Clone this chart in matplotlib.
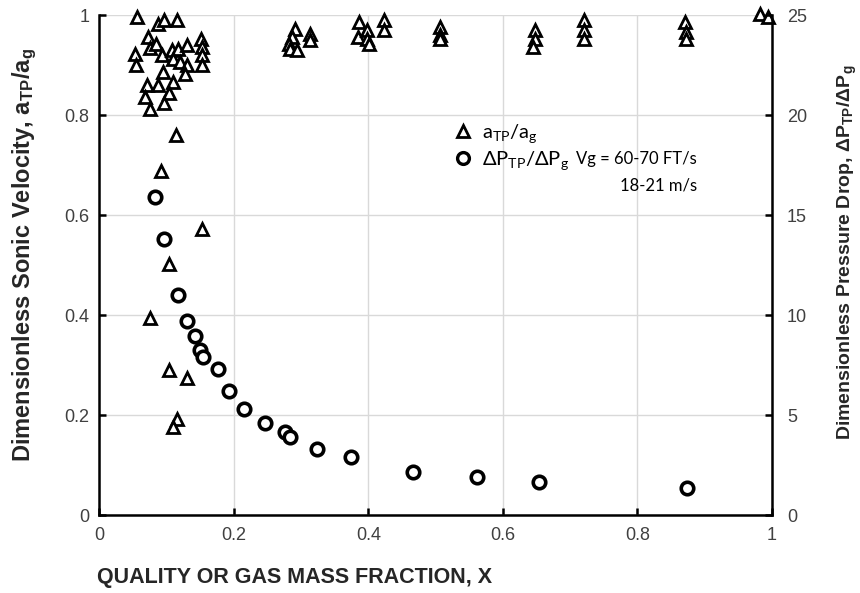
import matplotlib
matplotlib.use("Agg")
import matplotlib.pyplot as plt
from matplotlib.lines import Line2D

plt.rcParams['font.family'] = ['Liberation Sans', 'DejaVu Sans']
plt.rcParams['mathtext.default'] = 'regular'

# Sonic velocity ratio a_TP/a_g (left axis)
x_sonic = [0.0556, 0.088, 0.0955, 0.115, 0.073, 0.075, 0.085, 0.053, 0.0546, 0.093,
           0.108, 0.1175, 0.130, 0.110, 0.120, 0.130, 0.127, 0.151, 0.152, 0.152,
           0.152, 0.095, 0.0705, 0.087, 0.110, 0.068, 0.1036, 0.0754, 0.0967,
           0.114, 0.0917, 0.152, 0.104, 0.0754, 0.1036, 0.1309, 0.116, 0.110,
           0.291, 0.286, 0.2826, 0.284, 0.2935, 0.313, 0.313, 0.3866, 0.385, 0.3976,
           0.3976, 0.4015, 0.4238, 0.4238, 0.5066, 0.5066, 0.507, 0.648, 0.648, 0.645,
           0.7207, 0.7207, 0.7207, 0.8709, 0.872, 0.872, 0.9825, 0.9947]
a_ratio = [0.997, 0.983, 0.990, 0.990, 0.957, 0.935, 0.943, 0.923, 0.901, 0.921,
           0.930, 0.933, 0.940, 0.913, 0.907, 0.900, 0.883, 0.953, 0.937, 0.920,
           0.900, 0.887, 0.860, 0.861, 0.867, 0.837, 0.845, 0.813, 0.825,
           0.760, 0.689, 0.573, 0.503, 0.395, 0.291, 0.275, 0.193, 0.177,
           0.973, 0.957, 0.943, 0.933, 0.930, 0.963, 0.950, 0.987, 0.957, 0.970,
           0.953, 0.943, 0.990, 0.970, 0.977, 0.960, 0.953, 0.970, 0.953, 0.937,
           0.990, 0.970, 0.953, 0.987, 0.967, 0.953, 1.003, 0.997]

# Pressure drop ratio dP_TP/dP_g (right axis)
x_dp = [0.0833, 0.0967, 0.1165, 0.130, 0.1423, 0.1497, 0.1537, 0.177, 0.1929, 0.2156,
        0.2464, 0.276, 0.2836, 0.3233, 0.3738, 0.467, 0.561, 0.654, 0.8744]
dp_ratio = [15.88, 13.8, 11.0, 9.72, 8.95, 8.25, 7.88, 7.28, 6.2, 5.28,
            4.62, 4.17, 3.88, 3.28, 2.92, 2.17, 1.92, 1.67, 1.33]

x_ticks = [0, 0.2, 0.4, 0.6, 0.8, 1]
x_tick_labels = ['0', '0.2', '0.4', '0.6', '0.8', '1']
y_ticks = [0, 0.2, 0.4, 0.6, 0.8, 1]
y_tick_labels = ['0', '0.2', '0.4', '0.6', '0.8', '1']
y2_ticks = [0, 5, 10, 15, 20, 25]

W, H = 860, 593
fig = plt.figure(figsize=(W / 100, H / 100), dpi=100)
ax = fig.add_axes([99.3/W, 78/H, 672.5/W, 500/H])
ax2 = ax.twinx()

grid_c = '#d9d9d9'
ax.set_xlim(0, 1)
ax.set_ylim(0, 1)
ax2.set_ylim(0, 25)
ax.set_xticks(x_ticks)
ax.set_xticklabels(x_tick_labels)
ax.set_yticks(y_ticks)
ax.set_yticklabels(y_tick_labels)
ax2.set_yticks(y2_ticks)
ax.grid(True, color=grid_c, lw=1.0)
ax.set_axisbelow(True)

for a in (ax, ax2):
    for s in a.spines.values():
        s.set_linewidth(1.8)
        s.set_color('black')
    a.spines['top'].set_visible(False)
ax.spines['right'].set_visible(False)
ax2.spines['left'].set_visible(False)
ax2.spines['bottom'].set_visible(False)

tick_c = '#404040'
ax.tick_params(axis='both', direction='in', length=5, width=1.8, labelsize=13,
               labelcolor=tick_c)
ax.tick_params(axis='x', pad=9)
ax.tick_params(axis='y', pad=7)
ax2.tick_params(axis='y', direction='in', length=5, width=1.8, labelsize=13,
                labelcolor=tick_c, pad=11)

ax.plot(x_sonic, a_ratio, linestyle='none', marker='^', markersize=9,
        markerfacecolor='white', markeredgecolor='black', markeredgewidth=2.0,
        clip_on=False, zorder=3)
ax2.plot(x_dp, dp_ratio, linestyle='none', marker='o', markersize=9,
         markerfacecolor='white', markeredgecolor='black', markeredgewidth=2.6,
         clip_on=False, zorder=3)

fig.text(97/W, 1 - 578/H, 'QUALITY OR GAS MASS FRACTION, X', fontsize=15.5,
         fontweight='bold', ha='left', va='center', color='#262626')
fig.text(25/W, 1 - 255/H, 'Dimensionless Sonic Velocity, a$_{TP}$/a$_{g}$',
         fontsize=17, fontweight='bold', rotation=90, ha='center', va='center',
         color='#262626')
fig.text(847/W, 1 - 252/H, 'Dimensionless Pressure Drop, ΔP$_{TP}$/ΔP$_{g}$',
         fontsize=14, fontweight='bold', rotation=90, ha='center', va='center',
         color='#262626')

handles = [
    Line2D([], [], linestyle='none', marker='^', markersize=8.5, markerfacecolor='white',
           markeredgecolor='black', markeredgewidth=2.0),
    Line2D([], [], linestyle='none', marker='o', markersize=8.5, markerfacecolor='white',
           markeredgecolor='black', markeredgewidth=2.4),
]
labels = ['a$_{TP}$/a$_{g}$', 'ΔP$_{TP}$/ΔP$_{g}$']
leg = ax2.legend(handles, labels, loc='upper left',
                 bbox_to_anchor=(453/W, 1 - 122/H), bbox_transform=fig.transFigure,
                 frameon=False, handlelength=1.0, handletextpad=0.45,
                 borderpad=0, borderaxespad=0, labelspacing=0.2,
                 prop={'family': 'Lato', 'size': 14.5})

fig.text(697/W, 1 - 159/H, 'Vg = 60-70 FT/s', family='Lato', fontsize=12,
         ha='right', va='center', color='black')
fig.text(697/W, 1 - 185/H, '18-21 m/s', family='Lato', fontsize=12,
         ha='right', va='center', color='black')

fig.savefig('out.png', dpi=100)
